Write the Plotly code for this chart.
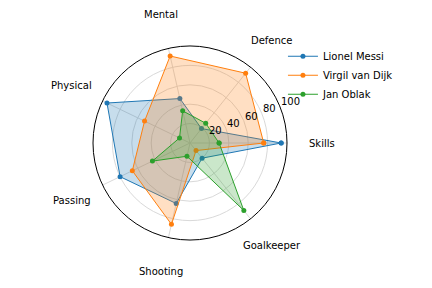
import math
import plotly.graph_objects as go

categories = ["Skills", "Defence", "Mental", "Physical", "Passing", "Shooting", "Goalkeeper"]
messi = [94, 19, 47, 95, 80, 64, 20]
van_dijk = [76, 92, 92, 52, 66, 86, 10]
oblak = [30, 26, 34, 12, 43, 14, 89]
names = ["Lionel Messi", "Virgil van Dijk", "Jan Oblak"]
colors = ["#1f77b4", "#ff7f0e", "#2ca02c"]
fills = ["rgba(31,119,180,0.25)", "rgba(255,127,14,0.25)", "rgba(44,160,44,0.25)"]
radial_ticks = [20, 40, 60, 80, 100]
r_max = 100

fig = go.Figure()
for name, vals, c, fc in zip(names, [messi, van_dijk, oblak], colors, fills):
    r = vals + vals[:1]
    th = categories + categories[:1]
    fig.add_trace(go.Scatterpolar(
        r=r, theta=th, mode="none", fill="toself", fillcolor=fc,
        showlegend=False, hoverinfo="skip",
    ))
    fig.add_trace(go.Scatterpolar(
        r=r, theta=th, mode="lines+markers", name=name,
        line=dict(color=c, width=1),
        marker=dict(color=c, size=5),
    ))

cx, cy, rad = 190, 143, 97
W, H = 432, 288
label_r = 131.5
rlabel_angle = math.radians(22.5)

annotations = []
# category labels centred at their angle, outside the circle
n = len(categories)
for i, cat in enumerate(categories):
    a = 2 * math.pi * i / n
    annotations.append(dict(
        text=cat, xref="paper", yref="paper",
        x=(cx + label_r * math.cos(a)) / W,
        y=(H - cy + label_r * math.sin(a)) / H,
        xanchor="center", yanchor="middle", showarrow=False,
        font=dict(size=10, color="black"),
    ))
# radial tick labels along the 22.5 degree direction
for t in radial_ticks:
    rp = rad * t / r_max
    annotations.append(dict(
        text=str(t), xref="paper", yref="paper",
        x=(cx + rp * math.cos(rlabel_angle) - 1) / W,
        y=(H - cy + rp * math.sin(rlabel_angle) + 4.7) / H,
        xanchor="left", yanchor="middle", showarrow=False,
        font=dict(size=10, color="black"),
    ))

fig.update_layout(
    width=W, height=H,
    margin=dict(l=0, r=0, t=0, b=0),
    paper_bgcolor="white",
    font=dict(family="DejaVu Sans", size=10, color="black"),
    annotations=annotations,
    polar=dict(
        domain=dict(x=[(cx - rad) / W, (cx + rad) / W],
                    y=[(H - cy - rad) / H, (H - cy + rad) / H]),
        bgcolor="white",
        angularaxis=dict(
            direction="counterclockwise", rotation=0,
            showline=True, linecolor="black", linewidth=1,
            gridcolor="#d9d9d9", gridwidth=0.8,
            ticks="", showticklabels=False,
        ),
        radialaxis=dict(
            range=[0, r_max], tickvals=radial_ticks,
            showline=False, showticklabels=False,
            gridcolor="#d9d9d9", gridwidth=0.8, ticks="",
        ),
    ),
    legend=dict(x=0.655, y=0.855, xanchor="left", yanchor="top",
                bgcolor="rgba(0,0,0,0)", font=dict(size=10)),
)
fig.write_html("out.html")
